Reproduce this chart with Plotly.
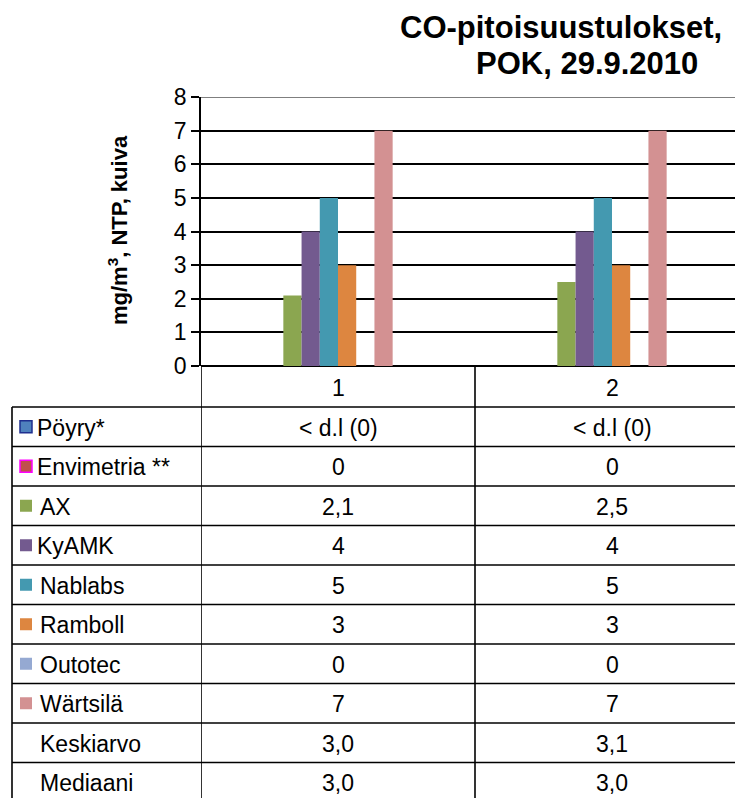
import plotly.graph_objects as go

categories = [1, 2]
series_names = ["Pöyry*", "Envimetria **", "AX", "KyAMK", "Nablabs", "Ramboll",
                "Outotec", "Wärtsilä", "Keskiarvo", "Mediaani"]
poyry = [0, 0]
envimetria = [0, 0]
ax_vals = [2.1, 2.5]
kyamk = [4, 4]
nablabs = [5, 5]
ramboll = [3, 3]
outotec = [0, 0]
wartsila = [7, 7]
keskiarvo = [3.0, 3.1]
mediaani = [3.0, 3.0]
all_values = [poyry, envimetria, ax_vals, kyamk, nablabs, ramboll,
              outotec, wartsila, keskiarvo, mediaani]
decimals = [0, 0, 1, 0, 0, 0, 0, 0, 1, 1]
special_labels = {"Pöyry*": ["< d.l (0)", "< d.l (0)"]}
y_ticks = [0, 1, 2, 3, 4, 5, 6, 7, 8]
y_max = 8

colors = ["#4F81BD", "#C0504D", "#8BA650", "#735A8F", "#4499B0", "#DD8640",
          "#95A9D2", "#D39192", "rgba(0,0,0,0)", "rgba(0,0,0,0)"]
marker_borders = ["#1F2F8F", "#FF00FF", None, None, None, None, None, None, None, None]

OFF = 8  # page body margin
PAGE_W, PAGE_H = 743, 798
W, H = PAGE_W - OFF, PAGE_H - OFF
PL, PT, PB, PR = 201, 97, 366, 743  # plot area in page pixels
L, T = PL - OFF, PT - OFF
B = H - (PB - OFF)
R = W - (PR - OFF)
PW, PH = PR - PL, PB - PT
FONT = "Liberation Sans, Arial, sans-serif"
FS = 23


def px(x):
    return (x - PL) / PW


def py(y):
    return (PB - y) / PH


fig = go.Figure()
for name, vals, col in zip(series_names, all_values, colors):
    fig.add_trace(go.Bar(x=categories, y=vals, name=name, marker_color=col,
                         marker_line_width=0, showlegend=False))

shapes = []
annotations = []
line = dict(color="black", width=1.6)

# top gridline drawn grey like the reference
shapes.append(dict(type="line", xref="paper", yref="y", x0=0, x1=1, y0=y_max, y1=y_max,
                   line=dict(color="#7F7F7F", width=2), layer="above"))

header_top, header_bot = 366, 407
row_h = 39.5
rows_top = [header_bot + i * row_h for i in range(len(series_names))]

for i in range(len(series_names) + 1):
    y = header_bot + i * row_h
    shapes.append(dict(type="line", xref="paper", yref="paper", x0=px(12), x1=px(PAGE_W + 5),
                       y0=py(y), y1=py(y), line=line))
shapes.append(dict(type="line", xref="paper", yref="paper", x0=px(12), x1=px(12),
                   y0=py(header_bot), y1=py(PAGE_H + 5), line=line))
for xb in [0.5, 1.5]:
    shapes.append(dict(type="line", xref="x", yref="paper", x0=xb, x1=xb,
                       y0=py(header_top), y1=py(PAGE_H + 5), line=line))

txtfont = dict(size=FS, color="black", family=FONT)
for c in categories:
    annotations.append(dict(x=c, xref="x", y=py((header_top + header_bot) / 2 + 1), yref="paper",
                            xanchor="center", yanchor="middle",
                            text=str(c), showarrow=False, font=txtfont))

for i, (name, vals, dec) in enumerate(zip(series_names, all_values, decimals)):
    yc = rows_top[i] + row_h / 2 + 1
    labels = special_labels.get(name, [f"{v:.{dec}f}".replace(".", ",") for v in vals])
    for c, lab in zip(categories, labels):
        annotations.append(dict(x=c, xref="x", y=py(yc), yref="paper", text=lab,
                                xanchor="center", yanchor="middle",
                                showarrow=False, font=txtfont))
    if colors[i] != "rgba(0,0,0,0)":
        bc = marker_borders[i]
        shapes.append(dict(type="rect", xref="paper", yref="paper",
                           x0=px(20), x1=px(32), y0=py(yc - 7), y1=py(yc + 5),
                           fillcolor=colors[i],
                           line=dict(color=bc if bc else colors[i], width=1.5 if bc else 0)))
    lx = 35 if name in ("Pöyry*", "Envimetria **", "KyAMK") else 38
    annotations.append(dict(x=px(lx), xref="paper", y=py(yc), yref="paper", text=name,
                            xanchor="left", yanchor="middle", showarrow=False, font=txtfont))

titlefont = dict(size=31, color="black", family=FONT)
annotations.append(dict(x=px(561), xref="paper", y=py(28), yref="paper",
                        xanchor="center", yanchor="middle",
                        text="<b>CO-pitoisuustulokset,</b>", showarrow=False, font=titlefont))
annotations.append(dict(x=px(587), xref="paper", y=py(64), yref="paper",
                        xanchor="center", yanchor="middle",
                        text="<b>POK, 29.9.2010</b>", showarrow=False, font=titlefont))
annotations.append(dict(x=px(118), xref="paper", y=py(230), yref="paper",
                        xanchor="center", yanchor="middle",
                        text="<b>mg/m<sup>3</sup>, NTP, kuiva</b>", textangle=-90, showarrow=False,
                        font=dict(size=22, color="black", family=FONT)))

fig.update_layout(
    width=W, height=H,
    margin=dict(l=L, r=R, t=T, b=B, pad=0),
    paper_bgcolor="white", plot_bgcolor="white",
    barmode="group", bargap=0.335, bargroupgap=0,
    shapes=shapes, annotations=annotations,
    font=dict(family=FONT, color="black"),
    showlegend=False,
)
fig.update_xaxes(range=[0.5, 0.5 + PW / 274], showticklabels=False, showgrid=False,
                 zeroline=False, showline=False, ticks="")
fig.update_yaxes(range=[0, y_max], tickvals=y_ticks, showgrid=True, gridcolor="black", gridwidth=1.6,
                 zeroline=True, zerolinecolor="black", zerolinewidth=1.6,
                 showline=True, linecolor="black", linewidth=1.6,
                 ticks="outside", ticklen=8, tickcolor="black", tickwidth=1.6,
                 tickfont=dict(size=FS, color="black", family=FONT))

fig.write_html("out.html")
